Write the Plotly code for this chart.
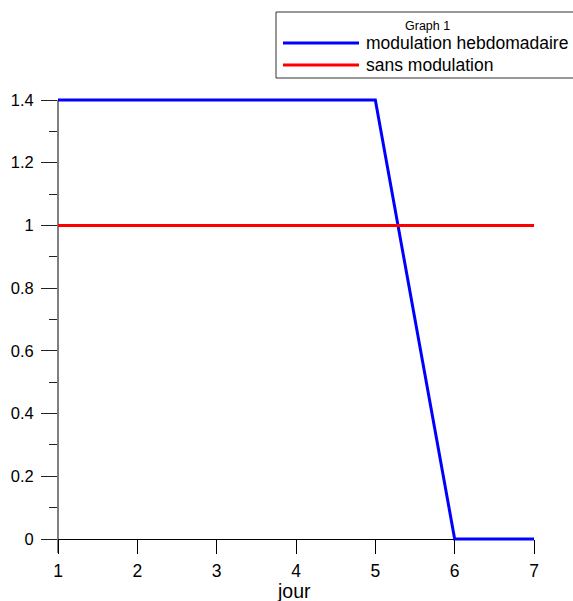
import plotly.graph_objects as go

# Daily weighting factors over one week
jours = [1, 2, 3, 4, 5, 6, 7]
modulation_hebdo = [1.4, 1.4, 1.4, 1.4, 1.4, 0, 0]
sans_modulation = [1, 1, 1, 1, 1, 1, 1]

x_ticks = [1, 2, 3, 4, 5, 6, 7]
y_ticks = [0, 0.2, 0.4, 0.6, 0.8, 1, 1.2, 1.4]
y_tick_labels = ["0", "0.2", "0.4", "0.6", "0.8", "1", "1.2", "1.4"]

series_names = ["modulation hebdomadaire", "sans modulation"]
series_colors = ["#0000FF", "#FF0000"]

W, H = 573, 601
Y_TOP_PX, Y_ZERO_PX = 100, 539          # pixel rows of y=1.4 and y=0
PAD = 8                                   # extra room so thick lines at the edges are not clipped
ML, MR = 58, 39
MT, MB = Y_TOP_PX - PAD, H - Y_ZERO_PX - PAD
PW, PH = W - ML - MR, H - MT - MB
per_unit = (Y_ZERO_PX - Y_TOP_PX) / 1.4
y_range = [-PAD / per_unit, 1.4 + PAD / per_unit]


def px_x(p):
    return (p - ML) / PW


def px_y(p):
    return (H - MB - p) / PH


fig = go.Figure()
for name, ys, col in zip(series_names, [modulation_hebdo, sans_modulation], series_colors):
    fig.add_trace(go.Scatter(x=jours, y=ys, mode="lines", name=name,
                             line=dict(color=col, width=3), showlegend=False))

font = "Arial, Liberation Sans, sans-serif"

# Vertical axis line, running a bit below zero
shapes = [dict(type="line", xref="paper", yref="paper",
               x0=0, x1=0, y0=px_y(Y_TOP_PX), y1=px_y(553),
               line=dict(color="#808080", width=2), layer="below")]

# Legend box drawn by hand
shapes.append(dict(type="rect", xref="paper", yref="paper",
                   x0=px_x(276), x1=px_x(580), y0=px_y(78), y1=px_y(12),
                   line=dict(color="#333333", width=1), fillcolor="white", layer="above"))
annotations = [dict(text="Graph 1", xref="paper", yref="paper", x=px_x(427), y=px_y(26),
                    showarrow=False, font=dict(family=font, size=12.5, color="black"),
                    xanchor="center", yanchor="middle")]
for i, (name, col) in enumerate(zip(series_names, series_colors)):
    yy = 43 + i * 22
    shapes.append(dict(type="line", xref="paper", yref="paper",
                       x0=px_x(283), x1=px_x(359), y0=px_y(yy), y1=px_y(yy),
                       line=dict(color=col, width=3), layer="above"))
    annotations.append(dict(text=name, xref="paper", yref="paper", x=px_x(364), y=px_y(yy),
                            showarrow=False, font=dict(family=font, size=17.5, color="black"),
                            xanchor="left", yanchor="middle"))

annotations.append(dict(text="jour", xref="paper", yref="paper", x=px_x(294), y=px_y(603),
                        showarrow=False, font=dict(family=font, size=19.5, color="black"),
                        xanchor="center", yanchor="bottom", borderpad=0))

fig.update_layout(
    width=W, height=H,
    margin=dict(l=ML, r=MR, t=MT, b=MB),
    paper_bgcolor="white", plot_bgcolor="white",
    font=dict(family=font, size=16, color="black"),
    shapes=shapes, annotations=annotations,
    xaxis=dict(range=[1, 7], tickvals=x_ticks, ticktext=[str(v) for v in x_ticks],
               showgrid=False, zeroline=False, showline=False, automargin=False,
               anchor="free", position=px_y(Y_ZERO_PX),
               ticks="outside", ticklen=14, tickcolor="black", tickwidth=1,
               tickfont=dict(family=font, size=17.5), ticklabelstandoff=2),
    yaxis=dict(range=y_range, tickvals=y_ticks, ticktext=y_tick_labels,
               showgrid=False, zeroline=True, zerolinecolor="black", zerolinewidth=1,
               showline=False, automargin=False,
               ticks="outside", ticklen=16, tickcolor="#222222", tickwidth=1,
               tickfont=dict(family=font, size=16.5), ticklabelstandoff=4,
               minor=dict(tickvals=[0.1, 0.3, 0.5, 0.7, 0.9, 1.1, 1.3],
                          ticks="outside", ticklen=8, tickcolor="#222222", tickwidth=1)),
)

fig.write_html("out.html")
